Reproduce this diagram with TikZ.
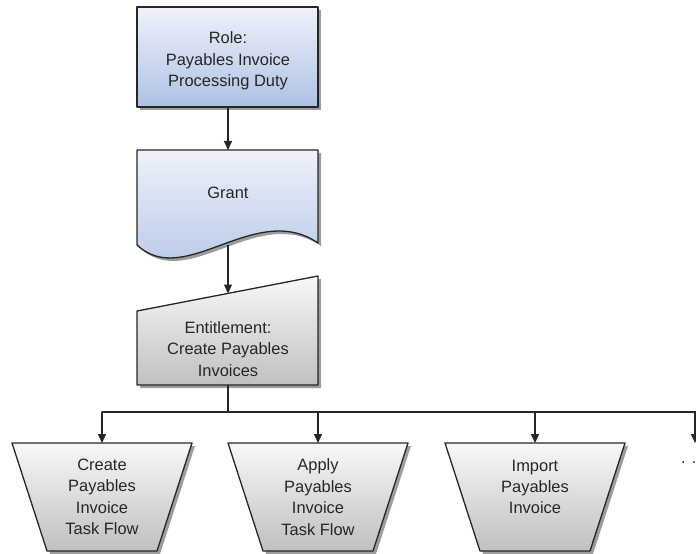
\documentclass[tikz,border=0pt]{standalone}
\usepackage{fontspec}
\setmainfont{Liberation Sans}
\usepackage{tikz}
\usetikzlibrary{arrows.meta,shadows}
\definecolor{BlueTop}{HTML}{EEF2FA}
\definecolor{BlueBot}{HTML}{AEC1E4}
\definecolor{GrayTop}{HTML}{F8F8F8}
\definecolor{GrayBot}{HTML}{C0C0C0}
\definecolor{EdgeCol}{HTML}{262626}

\begin{document}
\begin{tikzpicture}[line join=round,>={Triangle[length=9bp,width=8bp]}
  ,x=1bp,y=-1bp
  ,blueshape/.style={draw=EdgeCol,line width=1.3bp,top color=BlueTop,bottom color=BlueBot,
    drop shadow={shadow xshift=3bp,shadow yshift=-3bp,fill=black!55,opacity=0.7}}
  ,grayshape/.style={draw=EdgeCol,line width=1.3bp,top color=GrayTop,bottom color=GrayBot,
    drop shadow={shadow xshift=3bp,shadow yshift=-3bp,fill=black!55,opacity=0.7}}
  ,label/.style={align=center,font=\fontsize{16.5}{21.5}\selectfont,text=EdgeCol,inner sep=0pt}
  ,link/.style={->,line width=1.3bp,draw=EdgeCol}]
  \useasboundingbox (0,0) rectangle (696,554);
  \clip (0,0) rectangle (696,554);
  % role box
  \path[blueshape] (137,7) rectangle (318,107);
  \node[label] (role) at (228,61) {Role:\\Payables Invoice\\Processing Duty};
  \coordinate (roleB) at (228,107);
  % grant document
  \path[blueshape] (137,150) -- (318,150) -- (318,243)
    .. controls (255,200) and (185,290) .. (137,245) -- cycle;
  \node[label] (grant) at (228,193) {Grant};
  \coordinate (grantT) at (228,150);
  \coordinate (grantB) at (228,245);
  % entitlement
  \path[grayshape] (137,311) -- (318,276) -- (318,385) -- (137,385) -- cycle;
  \node[label] (entitle) at (228,349) {Entitlement:\\Create Payables\\Invoices};
  \coordinate (entT) at (228,293.5);
  \coordinate (entB) at (228,385);
  \coordinate (bus) at (228,412);
  % task flows
  \foreach \cx/\nm in {102/create,318/apply,535/import}{
    \path[grayshape] (\cx-90,443) -- (\cx+90,443) -- (\cx+55,551) -- (\cx-55,551) -- cycle;
    \coordinate (\nm T) at (\cx,443);
  }
  \coordinate (moreT) at (695,443);
  \node[label] (create) at (102,497) {Create\\Payables\\Invoice\\Task Flow};
  \node[label] (apply) at (318,497) {Apply\\Payables\\Invoice\\Task Flow};
  \node[label] (import) at (535,487) {Import\\Payables\\Invoice};
  \node[label,anchor=west] (more) at (681,463) {. . .};
  % connectors
  \draw[link] (roleB) -- (grantT);
  \draw[link] (grantB) -- (entT);
  \draw[line width=1.3bp,draw=EdgeCol] (entB) -- (bus);
  \draw[line width=1.3bp,draw=EdgeCol] (bus) -- (700,412);
  \foreach \nm in {create,apply,import,more}
    \draw[link] (bus) -| (\nm T);
\end{tikzpicture}
\end{document}
